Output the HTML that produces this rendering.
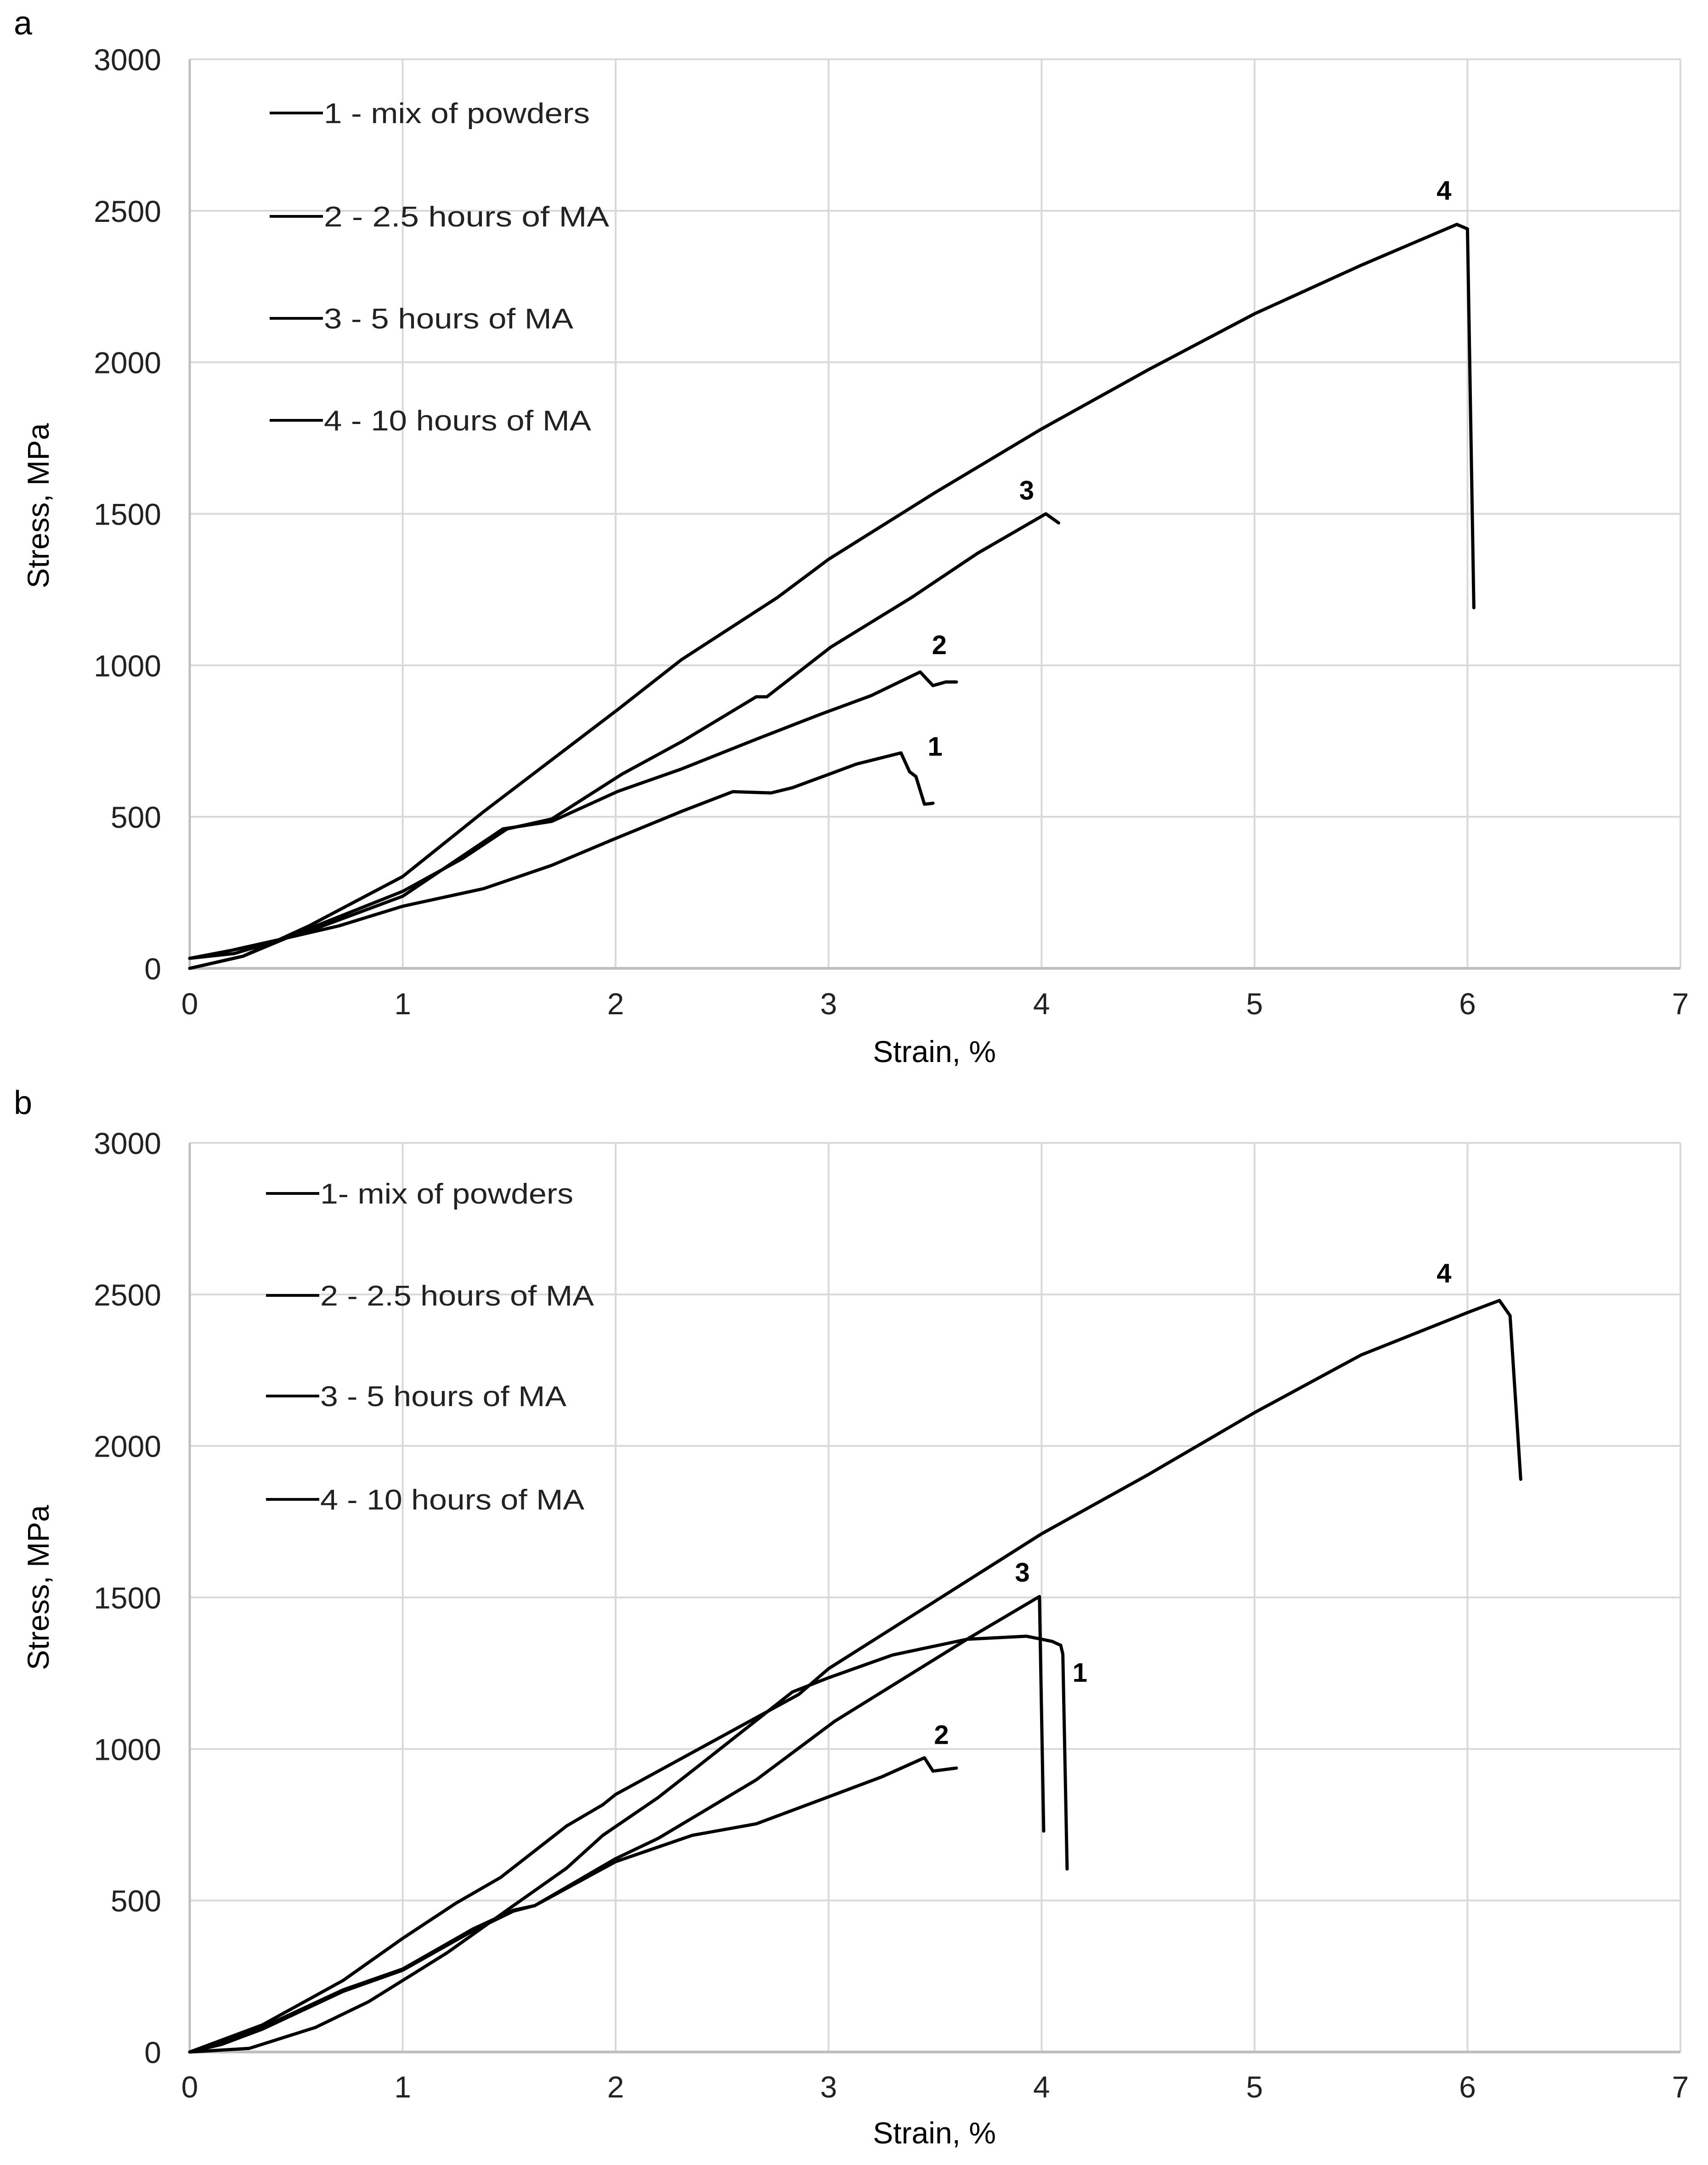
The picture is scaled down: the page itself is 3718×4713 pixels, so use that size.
<!DOCTYPE html>
<html><head><meta charset="utf-8">
<style>
html,body{margin:0;padding:0;background:#fff;}
svg{display:block;font-family:"Liberation Sans",Arial,sans-serif;}
</style></head>
<body>
<svg id="fig" width="3718" height="4713" viewBox="0 0 3718 4713" xmlns="http://www.w3.org/2000/svg">
<rect width="3718" height="4713" fill="#fff"/>
<text x="30" y="75" font-size="72">a</text>
<text x="30" y="2425" font-size="72">b</text>
<g id="chartA"></g>
<g id="chartB"></g>
</svg>
<script>
// shared axis data
const xTicks = [0,1,2,3,4,5,6,7];
const yTicks = [0,500,1000,1500,2000,2500,3000];

// Chart a series (strain %, stress MPa)
const a1x = [0,0.2,0.44,0.7,1.0,1.38,1.7,1.98,2.31,2.55,2.73,2.83,3.0,3.13,3.34,3.38,3.41,3.45,3.47,3.49];
const a1y = [33,60,98,140,205,263,340,423,518,583,579,596,640,674,711,649,633,542,543,545];
const a2x = [0,0.21,0.56,1.0,1.47,1.7,2.01,2.31,2.66,2.96,3.2,3.43,3.49,3.55,3.6];
const a2y = [33,49,123,238,460,485,584,658,756,838,900,978,933,945,945];
const a3x = [0,0.25,0.56,1.0,1.28,1.49,1.7,2.03,2.31,2.66,2.71,3.01,3.39,3.7,4.02,4.08];
const a3y = [0,40,131,254,362,460,493,641,748,896,896,1060,1224,1370,1500,1470];
const a4x = [0,0.25,0.56,1.0,1.38,2.01,2.31,2.76,3.0,3.5,4.0,4.5,5.0,5.5,5.8,5.95,6.0,6.03];
const a4y = [0,40,140,303,517,854,1019,1224,1350,1570,1780,1975,2160,2320,2410,2455,2440,1190];
const aLabX = [3.5,3.52,3.93,5.89];
const aLabY = [735,1070,1580,2570];
const aLabT = ["1","2","3","4"];
const aLegend = ["1 - mix of powders","2  - 2.5 hours of MA","3 - 5 hours of MA","4 - 10 hours of MA"];

// Chart b series
const b1x = [0,0.28,0.59,0.84,1.0,1.21,1.52,1.77,1.94,2.2,2.4,2.83,3.0,3.3,3.65,3.93,4.05,4.09,4.10,4.12];
const b1y = [0,12,81,166,236,328,483,607,715,840,950,1188,1235,1310,1362,1372,1355,1342,1313,604];
const b2x = [0,0.15,0.34,0.72,1.0,1.33,1.52,1.62,2.0,2.36,2.66,2.92,3.25,3.45,3.49,3.6];
const b2y = [0,30,81,205,274,406,468,483,628,715,753,821,908,971,927,937];
const b3x = [0,0.15,0.34,0.72,1.0,1.33,1.52,1.62,2.0,2.2,2.66,3.03,3.65,3.99,4.01];
const b3y = [0,25,75,200,270,400,465,483,638,705,898,1092,1362,1503,729];
const b4x = [0,0.34,0.72,1.0,1.25,1.46,1.77,1.94,2.0,2.86,3.0,4.0,4.5,5.0,5.5,6.0,6.15,6.2,6.25];
const b4y = [0,89,236,375,491,576,746,816,850,1180,1265,1710,1905,2110,2300,2440,2480,2430,1890];
const bLabX = [4.18,3.53,3.91,5.89];
const bLabY = [1255,1050,1586,2573];
const bLabT = ["1","2","3","4"];
const bLegend = ["1- mix of powders","2 - 2.5 hours of MA","3 - 5 hours of MA","4 - 10 hours of MA"];

const NS = "http://www.w3.org/2000/svg";
function mk(tag, attrs, parent){
  const e = document.createElementNS(NS, tag);
  for (const k in attrs) e.setAttribute(k, attrs[k]);
  parent.appendChild(e);
  return e;
}

function drawChart(g, top, bottom, series, labX, labY, labT, legend, legY, legX0, legW, tickY, strainY, titleY){
  const left = 413, right = 3658;
  const sx = v => left + v * (right - left) / 7;
  const sy = v => bottom - v * (bottom - top) / 3000;
  xTicks.forEach(t => {
    if (t === 0) return;
    const l = mk('line',{x1:sx(t),x2:sx(t),y1:top,y2:bottom,stroke:'#d9d9d9','stroke-width':4},g);
    
    
  });
  yTicks.forEach(t => {
    if (t === 0) return;
    const l = mk('line',{x1:left,x2:right,y1:sy(t),y2:sy(t),stroke:'#d9d9d9','stroke-width':4},g);
    
    
  });
  const ya = mk('line',{x1:left,x2:left,y1:top,y2:bottom,stroke:'#bfbfbf','stroke-width':5},g);
  
  
  const xa = mk('line',{x1:left,x2:right,y1:bottom,y2:bottom,stroke:'#bfbfbf','stroke-width':6},g);
  
  
  xTicks.forEach(t => {
    const tx = mk('text',{x:sx(t),y:tickY,'font-size':66,'text-anchor':'middle',fill:'#222'},g);
    tx.textContent = t;
    
    
  });
  yTicks.forEach(t => {
    const tx = mk('text',{x:351,y:sy(t)+24,'font-size':66,'text-anchor':'end',fill:'#222'},g);
    tx.textContent = t;
    
    
  });
  const xt = mk('text',{x:2034,y:strainY,'font-size':66,'text-anchor':'middle',fill:'#000'},g);
  xt.textContent = 'Strain, %';
  
  
  const yt = mk('text',{x:0,y:0,'font-size':66,'text-anchor':'middle',fill:'#000',transform:`translate(106,${titleY}) rotate(-90)`},g);
  yt.textContent = 'Stress, MPa';
  
  
  series.forEach((s, i) => {
    const d = s[0].map((v, j) => (j ? 'L' : 'M') + sx(v).toFixed(1) + ',' + sy(s[1][j]).toFixed(1)).join(' ');
    const p = mk('path',{d:d,fill:'none',stroke:'#000','stroke-width':7,'stroke-linejoin':'round','stroke-linecap':'round'},g);
    
    
  });
  labT.forEach((t, i) => {
    const tx = mk('text',{x:sx(labX[i]),y:sy(labY[i])+22,'font-size':58,'font-weight':'bold','text-anchor':'middle',fill:'#000'},g);
    tx.textContent = t;
    
    
  });
  legend.forEach((t, i) => {
    const y = legY[i];
    const l = mk('line',{x1:legX0-118,x2:legX0-2,y1:y,y2:y,stroke:'#000','stroke-width':6},g);
    
    
    const tx = mk('text',{x:legX0,y:y+22,'font-size':62,fill:'#222',textLength:legW[i],lengthAdjust:'spacingAndGlyphs'},g);
    tx.textContent = t;
    
    
  });
}

drawChart(document.getElementById('chartA'), 129, 2108,
  [[a1x,a1y],[a2x,a2y],[a3x,a3y],[a4x,a4y]], aLabX, aLabY, aLabT, aLegend,
  [246,471,693,915], 705, [579,621,543,582], 2208, 2312, 1101);
drawChart(document.getElementById('chartB'), 2488, 4467,
  [[b1x,b1y],[b2x,b2y],[b3x,b3y],[b4x,b4y]], bLabX, bLabY, bLabT, bLegend,
  [2598,2820,3039,3264], 697, [551,596,536,575], 4566, 4666, 3456);
</script>
</body></html>
